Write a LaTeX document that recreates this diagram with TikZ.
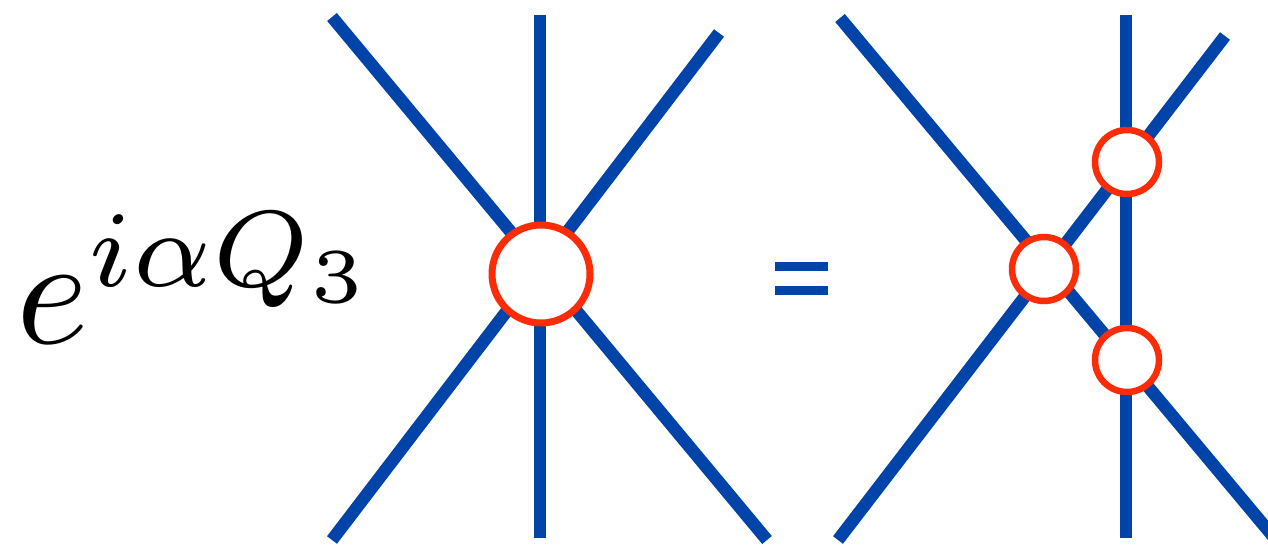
\documentclass[tikz,border=0pt]{standalone}
\definecolor{lineblue}{RGB}{0,68,170}
\definecolor{ringred}{RGB}{252,44,8}
\begin{document}
\begin{tikzpicture}[x=1pt,y=-1pt,
  wire/.style={draw=lineblue,line width=12.5pt},
  bigvertex/.style={circle,draw=ringred,fill=white,line width=7pt,minimum size=98pt,inner sep=0pt},
  smallvertex/.style={circle,draw=ringred,fill=white,line width=6.5pt,minimum size=64pt,inner sep=0pt},
  eqbar/.style={fill=lineblue}]
\useasboundingbox (0,0) rectangle (1268,548);
\clip (0,0) rectangle (1268,548);
% formula
\node[anchor=base west,inner sep=0pt,scale=15.5] (formula) at (13,343) {$e^{i\alpha Q_3}$};
% left diagram
\coordinate (l1a) at (332,17);
\coordinate (l1b) at (767,540);
\coordinate (l2a) at (719,33);
\coordinate (l2b) at (332,540);
\coordinate (l3a) at (540,15);
\coordinate (l3b) at (540,538);
\draw[wire] (l1a) -- (l1b);
\draw[wire] (l2a) -- (l2b);
\draw[wire] (l3a) -- (l3b);
\node[bigvertex] (big) at (541,274) {};
% equals sign
\fill[eqbar] (775,262) rectangle (828,271);
\fill[eqbar] (775,286) rectangle (828,295);
% right diagram
\coordinate (r1a) at (840,18);
\coordinate (r1b) at (1282,547);
\coordinate (r2a) at (1225,36);
\coordinate (r2b) at (838,540);
\coordinate (r3a) at (1126,15);
\coordinate (r3b) at (1126,538);
\draw[wire] (r1a) -- (r1b);
\draw[wire] (r2a) -- (r2b);
\draw[wire] (r3a) -- (r3b);
\node[smallvertex] (vtop) at (1127,162) {};
\node[smallvertex] (vleft) at (1044,269) {};
\node[smallvertex] (vbot) at (1127,360) {};
\end{tikzpicture}
\end{document}
